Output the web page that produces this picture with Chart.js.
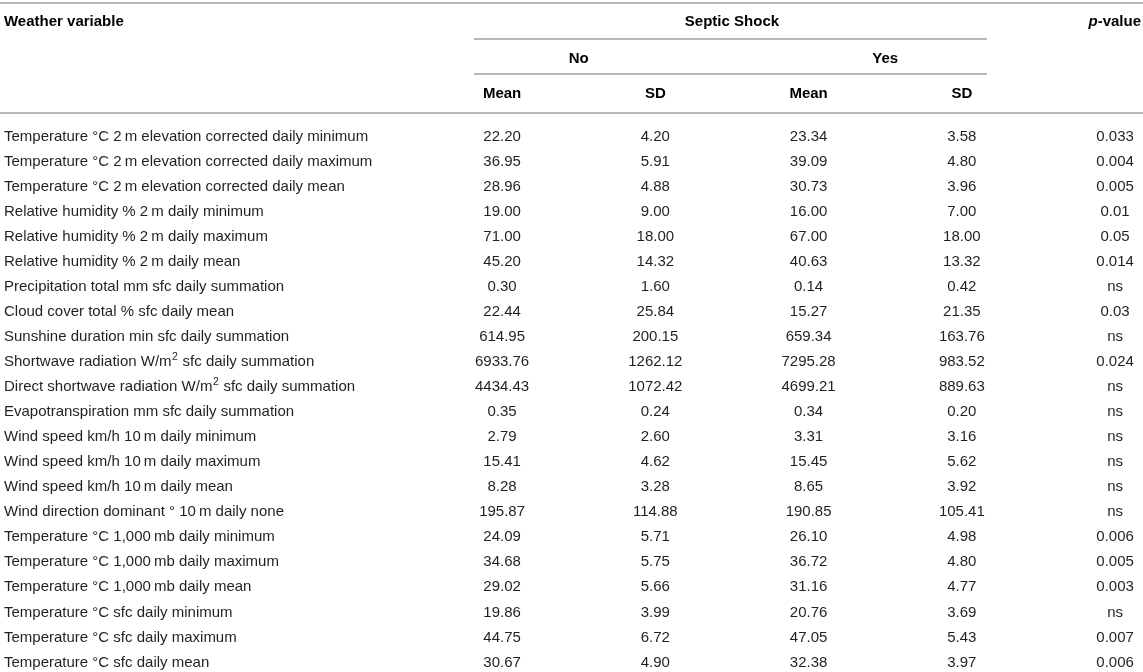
<!DOCTYPE html>
<html><head><meta charset="utf-8">
<script src="https://cdn.jsdelivr.net/npm/chart.js@4"></script>
<style>html,body{margin:0;padding:0;background:#fff;overflow:hidden}</style>
</head><body>
<div style="width:1143px;height:672px"><canvas id="c"></canvas></div>
<script>
const variables = [
  'Temperature \u00B0C 2\u2009m elevation corrected daily minimum',
  'Temperature \u00B0C 2\u2009m elevation corrected daily maximum',
  'Temperature \u00B0C 2\u2009m elevation corrected daily mean',
  'Relative humidity % 2\u2009m daily minimum',
  'Relative humidity % 2\u2009m daily maximum',
  'Relative humidity % 2\u2009m daily mean',
  'Precipitation total mm sfc daily summation',
  'Cloud cover total % sfc daily mean',
  'Sunshine duration min sfc daily summation',
  'Shortwave radiation W/m\u00B2 sfc daily summation',
  'Direct shortwave radiation W/m\u00B2 sfc daily summation',
  'Evapotranspiration mm sfc daily summation',
  'Wind speed km/h 10\u2009m daily minimum',
  'Wind speed km/h 10\u2009m daily maximum',
  'Wind speed km/h 10\u2009m daily mean',
  'Wind direction dominant \u00B0 10\u2009m daily none',
  'Temperature \u00B0C 1,000\u2009mb daily minimum',
  'Temperature \u00B0C 1,000\u2009mb daily maximum',
  'Temperature \u00B0C 1,000\u2009mb daily mean',
  'Temperature \u00B0C sfc daily minimum',
  'Temperature \u00B0C sfc daily maximum',
  'Temperature \u00B0C sfc daily mean'
];
const noMean  = [22.20, 36.95, 28.96, 19.00, 71.00, 45.20, 0.30, 22.44, 614.95, 6933.76, 4434.43, 0.35, 2.79, 15.41, 8.28, 195.87, 24.09, 34.68, 29.02, 19.86, 44.75, 30.67];
const noSD    = [4.20, 5.91, 4.88, 9.00, 18.00, 14.32, 1.60, 25.84, 200.15, 1262.12, 1072.42, 0.24, 2.60, 4.62, 3.28, 114.88, 5.71, 5.75, 5.66, 3.99, 6.72, 4.90];
const yesMean = [23.34, 39.09, 30.73, 16.00, 67.00, 40.63, 0.14, 15.27, 659.34, 7295.28, 4699.21, 0.34, 3.31, 15.45, 8.65, 190.85, 26.10, 36.72, 31.16, 20.76, 47.05, 32.38];
const yesSD   = [3.58, 4.80, 3.96, 7.00, 18.00, 13.32, 0.42, 21.35, 163.76, 983.52, 889.63, 0.20, 3.16, 5.62, 3.92, 105.41, 4.98, 4.80, 4.77, 3.69, 5.43, 3.97];
const pValues = ['0.033', '0.004', '0.005', '0.01', '0.05', '0.014', 'ns', '0.03', 'ns', '0.024', 'ns', 'ns', 'ns', 'ns', 'ns', 'ns', '0.006', '0.005', '0.003', 'ns', '0.007', '0.006'];

const headerVariable = 'Weather variable';
const headerGroup = 'Septic Shock';
const headerSub = ['No', 'Yes'];
const headerStats = ['Mean', 'SD', 'Mean', 'SD'];
const headerP = ['p', '-value'];

// layout (column index units / row index units)
const COL_NAME = -3.25;
const X_MIN = -3.276, X_MAX = 4.182;
const Y_MIN = -5.39, Y_MAX = 21.44;
const ROW_H1 = -4.59, ROW_H2 = -3.11, ROW_H3 = -1.72;
const RULE_TOP = -5.27, RULE_GROUP = -3.85, RULE_SUB = -2.44, RULE_BODY = -0.88;
const GROUP_X0 = -0.183, GROUP_X1 = 3.164;
const TEXT_DY = 1.5;

const FAM = '"Liberation Sans", Arial, sans-serif';
const BODY_FONT = '15px ' + FAM;
const HEAD_FONT = 'bold 15px ' + FAM;
const SUP_FONT = '10.5px ' + FAM;
const BODY_COLOR = '#231f20';
const HEAD_COLOR = '#000';
const RULE_COLOR = '#b8b8b8';

function col(values, xi, fmt) {
  return {
    label: 'c' + xi,
    data: values.map((v, i) => ({x: xi, y: i})),
    texts: values.map(fmt),
    pointRadius: 0,
    pointHoverRadius: 0,
    showLine: false
  };
}
const f2 = v => v.toFixed(2);

function drawRich(ctx, text, x, y) {
  const parts = text.split('\u00B2');
  let cx = x;
  parts.forEach((p, k) => {
    ctx.font = BODY_FONT;
    ctx.fillText(p, cx, y);
    cx += ctx.measureText(p).width;
    if (k < parts.length - 1) {
      ctx.font = SUP_FONT;
      ctx.fillText('2', cx + 0.5, y - 5);
      cx += ctx.measureText('2').width + 1;
    }
  });
}

const tablePlugin = {
  id: 'tablePlugin',
  afterDatasetsDraw(chart) {
    const ctx = chart.ctx;
    const xs = chart.scales.x, ys = chart.scales.y;
    const W = chart.width;
    const ty = v => ys.getPixelForValue(v) + TEXT_DY;
    ctx.save();
    ctx.strokeStyle = RULE_COLOR;
    ctx.lineWidth = 2;
    const hline = (x0, x1, yv) => {
      const y = Math.round(ys.getPixelForValue(yv));
      ctx.beginPath(); ctx.moveTo(x0, y); ctx.lineTo(x1, y); ctx.stroke();
    };
    hline(0, W, RULE_TOP);
    hline(xs.getPixelForValue(GROUP_X0), xs.getPixelForValue(GROUP_X1), RULE_GROUP);
    hline(xs.getPixelForValue(GROUP_X0), xs.getPixelForValue(GROUP_X1), RULE_SUB);
    hline(0, W, RULE_BODY);

    ctx.fillStyle = HEAD_COLOR;
    ctx.font = HEAD_FONT;
    ctx.textBaseline = 'middle';
    ctx.textAlign = 'left';
    ctx.fillText(headerVariable, xs.getPixelForValue(COL_NAME), ty(ROW_H1));
    ctx.textAlign = 'center';
    ctx.fillText(headerGroup, xs.getPixelForValue(1.5), ty(ROW_H1));
    ctx.fillText(headerSub[0], xs.getPixelForValue(0.5), ty(ROW_H2));
    ctx.fillText(headerSub[1], xs.getPixelForValue(2.5), ty(ROW_H2));
    headerStats.forEach((h, i) => ctx.fillText(h, xs.getPixelForValue(i), ty(ROW_H3)));
    const PFONT = 'italic bold 15px ' + FAM;
    ctx.font = PFONT;
    const wp = ctx.measureText(headerP[0]).width;
    ctx.font = HEAD_FONT;
    const wv = ctx.measureText(headerP[1]).width;
    const px0 = W - 2 - (wp + wv);
    ctx.textAlign = 'left';
    ctx.font = PFONT;
    ctx.fillText(headerP[0], px0, ty(ROW_H1));
    ctx.font = HEAD_FONT;
    ctx.fillText(headerP[1], px0 + wp, ty(ROW_H1));

    ctx.fillStyle = BODY_COLOR;
    chart.data.datasets.forEach((ds, di) => {
      const meta = chart.getDatasetMeta(di);
      meta.data.forEach((pt, i) => {
        const t = ds.texts[i];
        if (ds.align === 'left') {
          ctx.textAlign = 'left';
          drawRich(ctx, t, pt.x, pt.y + TEXT_DY);
        } else {
          ctx.textAlign = 'center';
          ctx.font = BODY_FONT;
          ctx.fillText(t, pt.x, pt.y + TEXT_DY);
        }
      });
    });
    ctx.restore();
  }
};

const nameCol = col(variables, COL_NAME, v => v);
nameCol.align = 'left';

new Chart(document.getElementById('c'), {
  type: 'scatter',
  data: {
    datasets: [
      nameCol,
      col(noMean, 0, f2),
      col(noSD, 1, f2),
      col(yesMean, 2, f2),
      col(yesSD, 3, f2),
      col(pValues, 4, v => v)
    ]
  },
  options: {
    responsive: true,
    maintainAspectRatio: false,
    animation: false,
    events: [],
    layout: {padding: 0},
    plugins: {legend: {display: false}, tooltip: {enabled: false}},
    scales: {
      x: {type: 'linear', display: false, min: X_MIN, max: X_MAX},
      y: {type: 'linear', display: false, reverse: true, min: Y_MIN, max: Y_MAX}
    }
  },
  plugins: [tablePlugin]
});
</script>
</body></html>
